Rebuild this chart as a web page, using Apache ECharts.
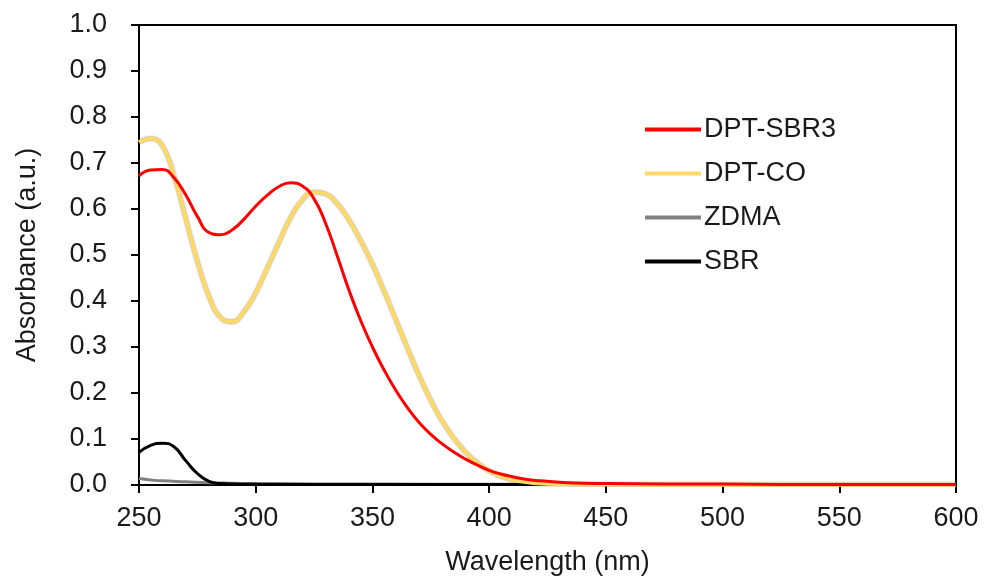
<!DOCTYPE html>
<html>
<head>
<meta charset="utf-8">
<script src="https://cdn.jsdelivr.net/npm/echarts@6/dist/echarts.min.js"></script>
<style>html,body{margin:0;padding:0;background:#fff}#c{width:986px;height:581px}</style>
</head>
<body>
<div id="c"></div>
<script>
const seriesNames = ['DPT-SBR3', 'DPT-CO', 'ZDMA', 'SBR'];
const xTicks = [250, 300, 350, 400, 450, 500, 550, 600];
const yTicks = [0.0, 0.1, 0.2, 0.3, 0.4, 0.5, 0.6, 0.7, 0.8, 0.9, 1.0];

const sbr3X = [250,255,260,265,270,275,280,285,290,295,300,305,310,315,320,325,330,335,340,345,350,355,360,365,370,375,380,385,390,395,400,405,410,415,420,430,440,450,500,550,600];
const sbr3Y = [0.672,0.685,0.686,0.668,0.631,0.584,0.549,0.544,0.555,0.578,0.606,0.630,0.649,0.657,0.650,0.622,0.568,0.497,0.423,0.357,0.300,0.250,0.206,0.168,0.136,0.110,0.089,0.071,0.056,0.043,0.032,0.024,0.018,0.013,0.010,0.006,0.004,0.003,0.002,0.001,0.001];

const coX = [250,255,260,265,270,275,280,285,290,295,300,305,310,315,320,325,330,335,340,345,350,355,360,365,370,375,380,385,390,395,400,405,410,415,420,430,450,500,550,600];
const coY = [0.745,0.753,0.738,0.672,0.580,0.487,0.410,0.364,0.355,0.377,0.418,0.472,0.528,0.582,0.620,0.637,0.633,0.611,0.576,0.531,0.480,0.421,0.360,0.298,0.238,0.184,0.138,0.101,0.071,0.048,0.031,0.019,0.011,0.007,0.004,0.002,0.001,0.0005,0.0005,0.0005];

const zdmaX = [250,255,260,270,280,290,300,350,400,500,600];
const zdmaY = [0.014,0.011,0.009,0.007,0.005,0.004,0.003,0.002,0.0015,0.001,0.001];

const sbrX = [250,255,260,265,270,275,280,285,290,300,350,400,500,600];
const sbrY = [0.071,0.086,0.091,0.083,0.053,0.025,0.008,0.003,0.002,0.0015,0.001,0.001,0.001,0.001];

const colors = ['#FF0000', '#FFD966', '#808080', '#000000'];
const widths = [3, 4, 3, 3];

function pairs(xs, ys) { return xs.map((x, i) => [x, ys[i]]); }
const allData = [pairs(sbr3X, sbr3Y), pairs(coX, coY), pairs(zdmaX, zdmaY), pairs(sbrX, sbrY)];

const textColor = '#1a1a1a';
const fontFamily = 'Liberation Sans, Arial, sans-serif';

const chart = echarts.init(document.getElementById('c'), null, { renderer: 'canvas' });
const drawOrder = [2, 3, 1, 0];
chart.setOption({
  animation: false,
  backgroundColor: '#fff',
  grid: { left: 139, right: 30, top: 25, bottom: 95, show: true, borderColor: '#000', borderWidth: 2, backgroundColor: 'transparent' },
  legend: {
    orient: 'vertical',
    left: 640,
    top: 111,
    itemWidth: 56,
    itemHeight: 4,
    itemGap: 17,
    icon: 'rect',
    textStyle: { fontSize: 27, color: textColor, fontFamily: fontFamily, padding: [0, 0, 0, -2] },
    data: seriesNames
  },
  xAxis: {
    type: 'value',
    min: xTicks[0],
    max: xTicks[xTicks.length - 1],
    interval: 50,
    name: 'Wavelength (nm)',
    nameLocation: 'middle',
    nameGap: 64,
    nameTextStyle: { fontSize: 27, color: textColor, fontFamily: fontFamily },
    axisLine: { show: true, onZero: false, lineStyle: { color: '#000', width: 2 } },
    axisTick: { show: true, inside: false, length: 8, lineStyle: { color: '#000', width: 2 } },
    axisLabel: { fontSize: 27, color: textColor, fontFamily: fontFamily, margin: 20 },
    splitLine: { show: false }
  },
  yAxis: {
    type: 'value',
    min: yTicks[0],
    max: yTicks[yTicks.length - 1],
    interval: 0.1,
    name: 'Absorbance (a.u.)',
    nameLocation: 'middle',
    nameGap: 98,
    nameTextStyle: { fontSize: 27, color: textColor, fontFamily: fontFamily },
    axisLine: { show: true, lineStyle: { color: '#000', width: 2 } },
    axisTick: { show: true, inside: false, length: 8, lineStyle: { color: '#000', width: 2 } },
    axisLabel: { fontSize: 27, color: textColor, fontFamily: fontFamily, margin: 32, formatter: v => v.toFixed(1) },
    splitLine: { show: false }
  },
  series: drawOrder.map(i => ({
    name: seriesNames[i],
    type: 'line',
    data: allData[i],
    smooth: 0.5,
    showSymbol: false,
    symbol: 'none',
    clip: true,
    color: colors[i],
    z: 2 + drawOrder.indexOf(i),
    itemStyle: { color: colors[i] },
    lineStyle: i === 1
      ? { color: colors[i], width: widths[i], shadowColor: 'rgba(0,0,0,0.45)', shadowBlur: 2 }
      : { color: colors[i], width: widths[i] }
  }))
});
</script>
</body>
</html>
